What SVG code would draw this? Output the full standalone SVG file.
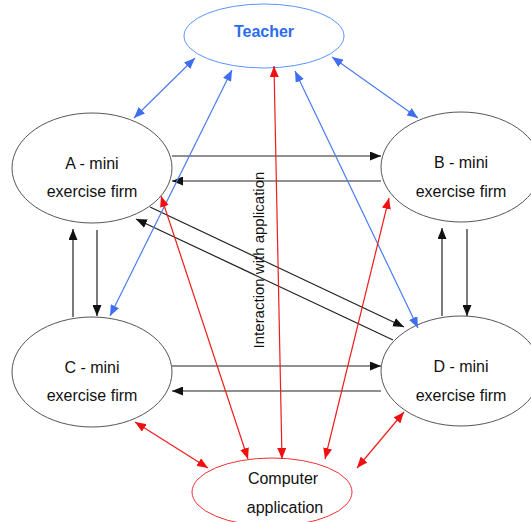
<svg xmlns="http://www.w3.org/2000/svg" width="531" height="522" viewBox="0 0 531 522">
<style>
.node{fill:#fff;stroke:#555;stroke-width:1}
.t{font-family:"Liberation Sans",Arial,sans-serif;font-size:16px;fill:#111;text-anchor:middle}
.k{stroke:#222;stroke-width:1.2;fill:none}
.b{stroke:#4a7cf0;stroke-width:1.2;fill:none}
.r{stroke:#f01c1c;stroke-width:1.2;fill:none}
</style>
<defs>
<marker id="ak" markerUnits="userSpaceOnUse" markerWidth="11" markerHeight="9" refX="11" refY="4.5" orient="auto-start-reverse"><path d="M0,0 L11,4.5 L0,9 z" fill="#111"/></marker>
<marker id="ab" markerUnits="userSpaceOnUse" markerWidth="11" markerHeight="9" refX="11" refY="4.5" orient="auto-start-reverse"><path d="M0,0 L11,4.5 L0,9 z" fill="#3f6ff0"/></marker>
<marker id="ar" markerUnits="userSpaceOnUse" markerWidth="11" markerHeight="9" refX="11" refY="4.5" orient="auto-start-reverse"><path d="M0,0 L11,4.5 L0,9 z" fill="#f01010"/></marker>
</defs>
<rect width="531" height="522" fill="#fff"/>
<g id="teacher">
<ellipse cx="264" cy="36" rx="80" ry="32" fill="#fff" stroke="#5a95ff" stroke-width="1"/>
<text x="264" y="37" class="t" style="font-weight:bold;fill:#2a6cf0">Teacher</text>
</g>
<g id="nodeA">
<ellipse class="node" cx="92" cy="168" rx="80" ry="55"/>
<text class="t" x="92" y="169">A - mini</text>
<text class="t" x="92" y="197">exercise firm</text>
</g>
<g id="nodeB">
<ellipse class="node" cx="461" cy="167" rx="80" ry="55"/>
<text class="t" x="461" y="168">B - mini</text>
<text class="t" x="461" y="197">exercise firm</text>
</g>
<g id="nodeC">
<ellipse class="node" cx="92" cy="372" rx="80" ry="55"/>
<text class="t" x="92" y="373">C - mini</text>
<text class="t" x="92" y="401">exercise firm</text>
</g>
<g id="nodeD">
<ellipse class="node" cx="461" cy="371" rx="80" ry="55"/>
<text class="t" x="461" y="372">D - mini</text>
<text class="t" x="461" y="401">exercise firm</text>
</g>
<g id="computer">
<ellipse cx="272" cy="492" rx="80" ry="34" fill="#fff" stroke="#f03030" stroke-width="1"/>
<text class="t" x="283" y="484">Computer</text>
<text class="t" x="285" y="513">application</text>
</g>
<g id="connectors">
<line class="k" x1="172" y1="156" x2="381" y2="156" marker-end="url(#ak)"/>
<line class="k" x1="381" y1="181" x2="172" y2="181" marker-end="url(#ak)"/>
<line class="k" x1="172" y1="366" x2="381" y2="366" marker-end="url(#ak)"/>
<line class="k" x1="381" y1="391" x2="172" y2="391" marker-end="url(#ak)"/>
<line class="k" x1="73" y1="317" x2="73" y2="229" marker-end="url(#ak)"/>
<line class="k" x1="97" y1="230" x2="97" y2="316" marker-end="url(#ak)"/>
<line class="k" x1="442" y1="316" x2="442" y2="228" marker-end="url(#ak)"/>
<line class="k" x1="467" y1="229" x2="467" y2="316" marker-end="url(#ak)"/>
<line class="k" x1="150" y1="207" x2="404" y2="327" marker-end="url(#ak)"/>
<line class="k" x1="393" y1="340" x2="136" y2="219" marker-end="url(#ak)"/>
<line class="b" x1="195" y1="58" x2="134" y2="118" marker-start="url(#ab)" marker-end="url(#ab)"/>
<line class="b" x1="332" y1="57" x2="418" y2="118" marker-start="url(#ab)" marker-end="url(#ab)"/>
<line class="b" x1="232" y1="70" x2="110" y2="316" marker-start="url(#ab)" marker-end="url(#ab)"/>
<line class="b" x1="295" y1="71" x2="418" y2="328" marker-start="url(#ab)" marker-end="url(#ab)"/>
<line class="r" x1="274" y1="66" x2="282" y2="459" marker-start="url(#ar)" marker-end="url(#ar)"/>
<line class="r" x1="161" y1="196" x2="248" y2="459" marker-start="url(#ar)" marker-end="url(#ar)"/>
<line class="r" x1="389" y1="198" x2="325" y2="459" marker-start="url(#ar)" marker-end="url(#ar)"/>
<line class="r" x1="135" y1="422" x2="208" y2="468" marker-start="url(#ar)" marker-end="url(#ar)"/>
<line class="r" x1="404" y1="412" x2="357" y2="468" marker-start="url(#ar)" marker-end="url(#ar)"/>
</g>
<text transform="translate(264,260) rotate(-90)" x="0" y="0" style="font-family:'Liberation Sans',Arial,sans-serif;font-size:15px;fill:#111;text-anchor:middle">Interaction with application</text>
</svg>
